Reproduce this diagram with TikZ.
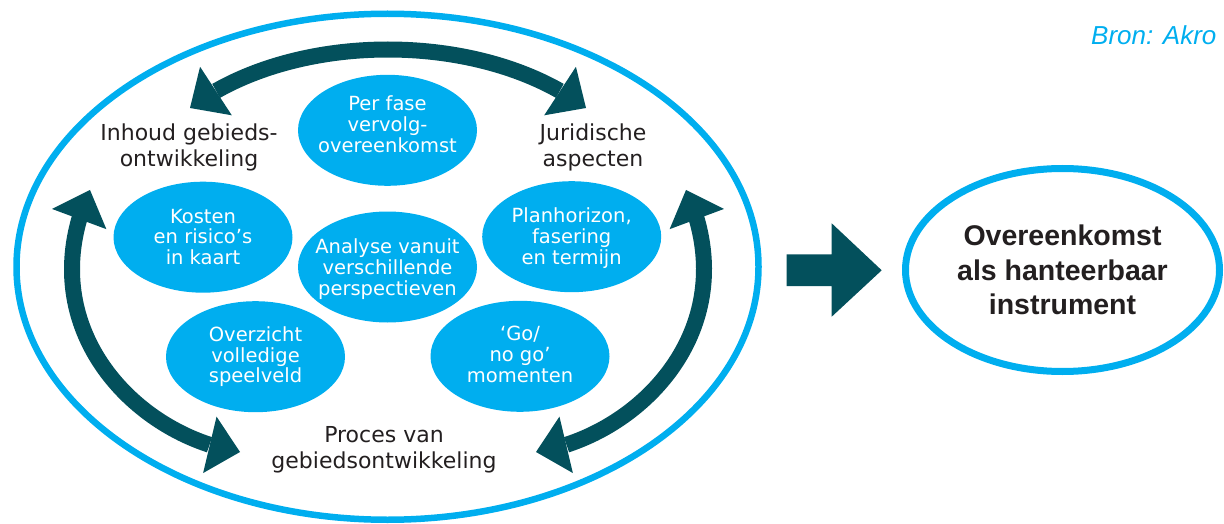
\documentclass[tikz,border=0pt]{standalone}
\usepackage{fontspec}
\setmainfont{DejaVu Sans}
\newfontfamily\libsans{Liberation Sans}
\usetikzlibrary{arrows.meta,bending,shapes.geometric}
\definecolor{cyanA}{HTML}{00AEEF}
\definecolor{tealA}{HTML}{03505C}
\definecolor{inkA}{HTML}{231F20}
\tikzset{
  outline/.style={ellipse, draw=cyanA, inner sep=0pt},
  blob/.style={ellipse, fill=cyanA, minimum width=179pt, minimum height=111pt, inner sep=0pt},
  wtext/.style={text=white, align=center, inner sep=0pt, font=\fontsize{19.5}{20.8}\selectfont},
  btext/.style={text=inkA, align=center, inner sep=0pt, font=\fontsize{22}{26}\selectfont},
  headtip/.tip={Triangle[length=31pt,width=58pt,line width=0pt]},
  cyclearrow/.style={draw=tealA, line width=16pt, headtip-headtip},
}
\begin{document}
\begin{tikzpicture}[x=1pt,y=-1pt]
\useasboundingbox (0,0) rectangle (1224,524);

% outer cycle ellipse
\node[outline, line width=6.5pt, minimum width=742pt, minimum height=506pt] (process) at (387.5,266.75) {};

% cycle arrows
\coordinate (tl) at (190,108);
\coordinate (tr) at (586,108);
\coordinate (lt) at (90,190);
\coordinate (lb) at (240,452);
\coordinate (rt) at (686,190);
\coordinate (rb) at (536,452);
\draw[cyclearrow] (tl) .. controls (293.3,30) and (482.7,30) .. (tr);
\draw[cyclearrow] (lt) .. controls (28.5,326.5) and (136,436.3) .. (lb);
\draw[cyclearrow] (rt) .. controls (747.5,326.5) and (640,436.3) .. (rb);

% inner blobs
\node[blob] (perfase) at (387.5,130.3) {};
\node[blob] (kosten) at (203,237.2) {};
\node[blob] (analyse) at (387.5,267) {};
\node[blob] (plan) at (571.7,236.7) {};
\node[blob] (overzicht) at (255.5,356.7) {};
\node[blob] (gonogo) at (520,356.3) {};

\node[wtext] (perfaseT) at (387.5,124.1) {Per fase\\vervolg-\\overeenkomst};
\node[wtext] (kostenT) at (203,237) {Kosten\\en risico’s\\in kaart};
\node[wtext] (analyseT) at (387.5,269) {Analyse vanuit\\verschillende\\perspectieven};
\node[wtext] (planT) at (571.7,238.4) {Planhorizon,\\fasering\\en termijn};
\node[wtext] (overzichtT) at (255.5,356.7) {Overzicht\\volledige\\speelveld};
\node[wtext] (gonogoT) at (520,354.6) {‘Go/\\no go’\\momenten};

% corner labels
\node[btext] (inhoud) at (189,147.25) {Inhoud gebieds-\\ontwikkeling};
\node[btext] (juridisch) at (593,147.25) {Juridische\\aspecten};
\node[btext] (procesT) at (384,449.3) {Proces van\\gebiedsontwikkeling};

% block arrow
\fill[tealA] (786.7,254.3) -- (831.7,254.3) -- (831.7,223.3) -- (881.7,270.3)
  -- (831.7,316.7) -- (831.7,286) -- (786.7,286) -- cycle;

% result ellipse
\node[outline, line width=7pt, minimum width=314pt, minimum height=203pt,
      text=inkA, align=center, font=\libsans\bfseries\fontsize{28.5}{34.2}\selectfont]
      (result) at (1062.5,270) {Overeenkomst\\als hanteerbaar\\instrument};

% source
\node[anchor=base west, inner sep=0pt, text=cyanA,
      font=\libsans\itshape\fontsize{26}{30}\selectfont] (bron) at (1091,45) {Bron: Akro};
\end{tikzpicture}
\end{document}
